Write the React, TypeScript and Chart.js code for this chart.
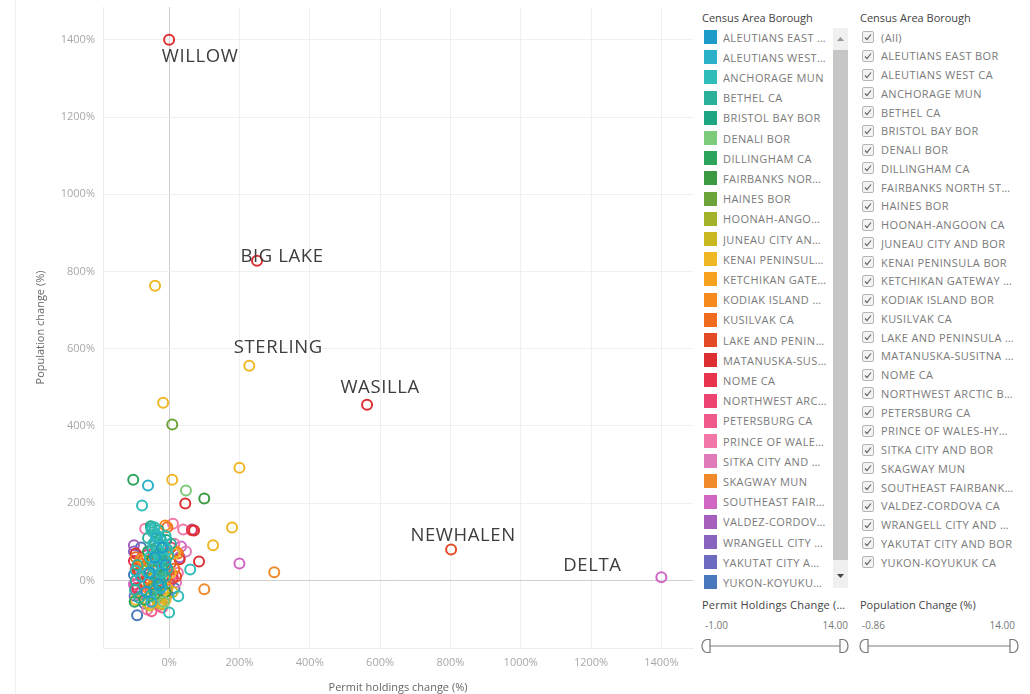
import React, { useEffect, useRef } from "react";
import { Chart, registerables } from "chart.js";
Chart.register(...registerables);

// ---------- DATA ----------
const BOROUGHS = [
  "ALEUTIANS EAST BOR", "ALEUTIANS WEST CA", "ANCHORAGE MUN", "BETHEL CA", "BRISTOL BAY BOR",
  "DENALI BOR", "DILLINGHAM CA", "FAIRBANKS NORTH STAR BOR", "HAINES BOR", "HOONAH-ANGOON CA",
  "JUNEAU CITY AND BOR", "KENAI PENINSULA BOR", "KETCHIKAN GATEWAY BOR", "KODIAK ISLAND BOR",
  "KUSILVAK CA", "LAKE AND PENINSULA BOR", "MATANUSKA-SUSITNA BOR", "NOME CA", "NORTHWEST ARCTIC BOR",
  "PETERSBURG CA", "PRINCE OF WALES-HYDER CA", "SITKA CITY AND BOR", "SKAGWAY MUN",
  "SOUTHEAST FAIRBANKS CA", "VALDEZ-CORDOVA CA", "WRANGELL CITY AND BOR", "YAKUTAT CITY AND BOR",
  "YUKON-KOYUKUK CA",
];

const COLORS = [
  "#1f9bc9", "#2ab0c8", "#2fbdb9", "#2bb09c", "#1ea582",
  "#7ccb7a", "#2da45c", "#3b9a3f", "#6da43a", "#a3b12b",
  "#c9b820", "#efb724", "#f6a21f", "#f68a1c", "#ef6c1e",
  "#e54a26", "#dd2f32", "#e9344d", "#ed4370", "#f05a8b",
  "#f277a8", "#e07ab9", "#f08a2a", "#d165c4", "#a75fbe",
  "#8a63c0", "#6c6bbf", "#4a78bd",
];

// [permit holdings change %, population change %]
const ALEUTIANS_EAST: number[][] = [[-55, 20], [-40, 60], [-30, -10], [-20, 85], [-65, -30], [-10, 40]];
const ALEUTIANS_WEST: number[][] = [[-60, 246], [-45, 35], [-25, -20], [-80, 10], [-35, 110], [-50, -55]];
const ANCHORAGE: number[][] = [[-77, 194], [-50, 130], [-40, 120], [-30, 75], [-20, 100], [-15, 60], [-5, 80], [-35, 40], [-25, 20], [0, -83], [26, -41], [60, 28], [-45, 95], [-10, 115], [-55, 60], [-42, 138], [-60, 20], [-95, 25]];
const BETHEL: number[][] = [[-50, 135], [-45, 125], [-40, 100], [-35, 85], [-30, 130], [-25, 110], [-20, 70], [-15, 90], [-10, 50], [-5, 30], [-38, 55], [-28, 45], [-18, 20], [-48, 15], [-58, -5], [-42, -25], [-32, 5], [-22, -15], [-12, 10], [-2, 65], [5, 95], [-60, 110], [-95, 0], [-90, 40], [-85, -45], [-33, 115], [-27, 95], [-37, 70], [-23, 55], [-47, 80], [-53, -40], [-97, -25]];
const BRISTOL_BAY: number[][] = [[-52, 140], [-33, 65], [-23, -5], [-8, 105]];
const DENALI: number[][] = [[48, 233], [-50, -40], [-15, -55]];
const DILLINGHAM: number[][] = [[-102, 261], [-98, -55], [-70, -50], [-40, -35], [-20, 35], [-60, 75]];
const FAIRBANKS: number[][] = [[100, 212], [-30, 15], [-10, -30], [-50, 50]];
const HAINES: number[][] = [[9, 404], [-45, -20]];
const HOONAH: number[][] = [[-35, -45], [-65, 25]];
const JUNEAU: number[][] = [[-55, -65], [-25, -60], [10, -30]];
const KENAI: number[][] = [[228, 556], [-40, 763], [-17, 460], [9, 261], [200, 292], [179, 137], [125, 91], [-30, -55], [-10, -50], [-95, -50], [5, 20], [-60, -60], [-20, -40], [15, 70]];
const KETCHIKAN: number[][] = [[-18, -62], [-5, -20], [-45, 5], [-70, 50]];
const KODIAK: number[][] = [[-11, 142], [-30, 30], [-60, -20], [20, 75], [-80, 55]];
const KUSILVAK: number[][] = [[-5, 138], [-85, 45], [-65, 40], [-40, 25], [-10, 0], [15, 30], [-50, -15], [-95, 60], [25, 70]];
const LAKE_PENINSULA: number[][] = [[802, 80], [-90, 30], [-70, -5], [-35, -25], [5, 45], [-55, 45], [20, 10], [-20, 55]];
const MATANUSKA: number[][] = [[0, 1400], [250, 828], [563, 455], [46, 199], [85, 49], [71, 129], [-60, 5], [-25, -10], [-85, 20], [30, 55], [-95, 70]];
const NOME: number[][] = [[-100, 50], [-75, 10], [-45, 70], [-15, 40], [10, 5], [-90, -20], [65, 130]];
const NORTHWEST_ARCTIC: number[][] = [[-95, 30], [-65, 65], [-35, -5], [5, 85], [-80, -30]];
const PETERSBURG: number[][] = [[-95, -10], [-50, -80], [-20, -70], [10, 15]];
const PRINCE_OF_WALES: number[][] = [[-68, 134], [11, 147], [40, 132], [-90, 5], [-62, -75], [-30, -65], [15, 95], [25, 20]];
const SITKA: number[][] = [[48, 75], [-90, -35], [20, -5]];
const SKAGWAY: number[][] = [[299, 21], [100, -23]];
const SOUTHEAST_FAIRBANKS: number[][] = [[1400, 8], [200, 44], [-100, -10], [34, 88]];
const VALDEZ: number[][] = [[-100, 91], [-96, -20], [65, 132], [30, 60]];
const WRANGELL: number[][] = [[-100, 75], [-10, -45]];
const YAKUTAT: number[][] = [[-98, -40], [0, -10]];
const YUKON: number[][] = [[-91, -90], [-100, 15], [-70, -60], [-40, -45], [-5, -35], [15, -20], [-55, -5], [-80, 85]];

const SERIES = [
  ALEUTIANS_EAST, ALEUTIANS_WEST, ANCHORAGE, BETHEL, BRISTOL_BAY, DENALI, DILLINGHAM, FAIRBANKS,
  HAINES, HOONAH, JUNEAU, KENAI, KETCHIKAN, KODIAK, KUSILVAK, LAKE_PENINSULA, MATANUSKA, NOME,
  NORTHWEST_ARCTIC, PETERSBURG, PRINCE_OF_WALES, SITKA, SKAGWAY, SOUTHEAST_FAIRBANKS, VALDEZ,
  WRANGELL, YAKUTAT, YUKON,
];

const LABEL_NAMES = ["WILLOW", "BIG LAKE", "STERLING", "WASILLA", "NEWHALEN", "DELTA"];
const LABEL_X = [0, 250, 228, 563, 802, 1400];
const LABEL_Y = [1400, 828, 556, 455, 80, 8];

const X_TICKS = [0, 200, 400, 600, 800, 1000, 1200, 1400];
const Y_TICKS = [0, 200, 400, 600, 800, 1000, 1200, 1400];

const PERMIT_RANGE = ["-1.00", "14.00"];
const POP_RANGE = ["-0.86", "14.00"];

// label pixel offsets (style)
const LABEL_DX = [31, 25, 29, 13, 12, -69];
const LABEL_DY = [17, -4, -18, -17, -14, -12];

const FONT = '"Open Sans", "DejaVu Sans", sans-serif';

const labelPlugin = {
  id: "townLabels",
  afterDatasetsDraw(chart: any) {
    const { ctx, scales } = chart;
    ctx.save();
    ctx.font = `18.5px ${FONT}`;
    ctx.fillStyle = "#3d3d3d";
    ctx.textAlign = "center";
    ctx.textBaseline = "middle";
    try { (ctx as any).letterSpacing = "0.6px"; } catch (e) {}
    LABEL_NAMES.forEach((name, i) => {
      const px = scales.x.getPixelForValue(LABEL_X[i]) + LABEL_DX[i];
      const py = scales.y.getPixelForValue(LABEL_Y[i]) + LABEL_DY[i];
      ctx.fillText(name, px, py);
    });
    ctx.restore();
  },
};

function ScatterChart() {
  const ref = useRef<HTMLCanvasElement>(null);
  useEffect(() => {
    if (!ref.current) return;
    const datasets = SERIES.map((pts, i) => ({
      label: BOROUGHS[i],
      data: pts.map((p) => ({ x: p[0], y: p[1] })),
      borderColor: COLORS[i],
      backgroundColor: "rgba(255,255,255,0)",
      pointRadius: 5,
      pointBorderWidth: 2,
      pointHoverRadius: 5,
    }));
    const gridColor = (c: any) => (c.tick && c.tick.value === 0 ? "#cfcfcf" : "#efefef");
    const chart = new Chart(ref.current, {
      type: "scatter",
      data: { datasets },
      plugins: [labelPlugin],
      options: {
        animation: false,
        responsive: false,
        maintainAspectRatio: false,
        layout: { padding: { left: 30, top: 5, right: 7, bottom: 0 } },
        plugins: { legend: { display: false }, tooltip: { enabled: false } },
        scales: {
          x: {
            type: "linear",
            min: -188,
            max: 1490,
            afterBuildTicks: (s: any) => { s.ticks = X_TICKS.map((v) => ({ value: v })); },
            afterFit: (s: any) => { s.height = 46; },
            ticks: {
              includeBounds: false,
              callback: (v: any) => `${v}%`,
              color: "#a8a8a8",
              font: { family: FONT, size: 11 },
              padding: 8,
              maxRotation: 0,
            },
            grid: { color: gridColor, drawTicks: false, lineWidth: 1 },
            border: { display: true, color: "#ececec" },
            title: {
              display: true,
              text: "Permit holdings change (%)",
              color: "#666",
              font: { family: FONT, size: 11 },
              padding: { top: 0, bottom: 0 },
            },
          },
          y: {
            type: "linear",
            min: -175,
            max: 1485,
            afterBuildTicks: (s: any) => { s.ticks = Y_TICKS.map((v) => ({ value: v })); },
            afterFit: (s: any) => { s.width = 73; s.paddingTop = 0; s.paddingBottom = 0; },
            ticks: {
              includeBounds: false,
              callback: (v: any) => `${v}%`,
              color: "#a8a8a8",
              font: { family: FONT, size: 11 },
              padding: 8,
            },
            grid: { color: gridColor, drawTicks: false, lineWidth: 1 },
            border: { display: true, color: "#ececec" },
            title: {
              display: true,
              text: "Population change (%)",
              color: "#666",
              font: { family: FONT, size: 11 },
              padding: { top: 4, bottom: 0 },
            },
          },
        },
      },
    } as any);
    return () => chart.destroy();
  }, []);
  return <canvas ref={ref} width={700} height={694} style={{ position: "absolute", left: 0, top: 0 }} />;
}

const textBase: React.CSSProperties = {
  fontFamily: FONT,
  fontSize: 11,
  color: "#7a7a7a",
  letterSpacing: 0.4,
  whiteSpace: "nowrap",
  overflow: "hidden",
  textOverflow: "ellipsis",
};

function Checkbox() {
  return (
    <svg width={12} height={12} style={{ display: "block" }}>
      <rect x={0.5} y={0.5} width={11} height={11} rx={1.5} fill="#f3f3f3" stroke="#b5b5b5" />
      <path d="M3 6.5 L5 8.5 L9 3.5" fill="none" stroke="#666" strokeWidth={1.2} />
    </svg>
  );
}

function Slider({ left, width }: { left: number; width: number }) {
  return (
    <svg width={width} height={16} style={{ position: "absolute", left, top: 638 }}>
      <line x1={8} y1={8} x2={width - 8} y2={8} stroke="#bdbdbd" strokeWidth={2} />
      <path d="M8 1.5 L8 14.5 L5 14.5 A5 6.5 0 0 1 5 1.5 Z" fill="#fff" stroke="#777" strokeWidth={1.2} transform="translate(1,0)" />
      <path d={`M${width - 9} 1.5 L${width - 9} 14.5 L${width - 6} 14.5 A5 6.5 0 0 0 ${width - 6} 1.5 Z`} fill="#fff" stroke="#777" strokeWidth={1.2} />
    </svg>
  );
}

export default function App() {
  useEffect(() => {
    document.body.style.margin = "0";
  }, []);
  return (
    <div style={{ position: "fixed", left: 0, top: 0, width: 1030, height: 694, background: "#fff", overflow: "hidden" }}>
      <div style={{ position: "absolute", left: 15, top: 0, width: 1, height: 694, background: "#f0f0f0" }} />
      <ScatterChart />

      {/* colour legend */}
      <div style={{ ...textBase, position: "absolute", left: 702, top: 10, color: "#444", letterSpacing: 0 }}>Census Area Borough</div>
      {BOROUGHS.map((b, i) => (
        <div key={b} style={{ position: "absolute", left: 704, top: 30 + i * 20.2, height: 14, display: "flex", alignItems: "center" }}>
          <div style={{ width: 13, height: 14, background: COLORS[i] }} />
          <div style={{ ...textBase, marginLeft: 6, width: 104 }}>{b}</div>
        </div>
      ))}
      <div style={{ position: "absolute", left: 833, top: 28, width: 15, height: 560, background: "#f0f0f0" }} />
      <div style={{ position: "absolute", left: 833, top: 50, width: 15, height: 510, background: "#c6c6c6" }} />
      <svg width={15} height={10} style={{ position: "absolute", left: 833, top: 34 }}>
        <path d="M4 7 L7.5 3 L11 7 Z" fill="#999" />
      </svg>
      <svg width={15} height={10} style={{ position: "absolute", left: 833, top: 571 }}>
        <path d="M4 3 L7.5 7 L11 3 Z" fill="#444" />
      </svg>

      {/* filter list */}
      <div style={{ ...textBase, position: "absolute", left: 860, top: 10, color: "#444", letterSpacing: 0 }}>Census Area Borough</div>
      {["(All)", ...BOROUGHS].map((b, i) => (
        <div key={b} style={{ position: "absolute", left: 862, top: 30 + i * 18.75, height: 14, display: "flex", alignItems: "center" }}>
          <Checkbox />
          <div style={{ ...textBase, marginLeft: 7, width: 134 }}>{b}</div>
        </div>
      ))}

      {/* range filters */}
      <div style={{ ...textBase, position: "absolute", left: 702, top: 597, width: 146, color: "#444", letterSpacing: 0.2 }}>Permit Holdings Change (%)</div>
      <div style={{ ...textBase, position: "absolute", left: 705, top: 618, color: "#777", letterSpacing: 0, fontSize: 10 }}>{PERMIT_RANGE[0]}</div>
      <div style={{ ...textBase, position: "absolute", left: 800, width: 48, textAlign: "right", top: 618, color: "#777", letterSpacing: 0, fontSize: 10 }}>{PERMIT_RANGE[1]}</div>
      <Slider left={701} width={148} />

      <div style={{ ...textBase, position: "absolute", left: 860, top: 597, color: "#444", letterSpacing: 0 }}>Population Change (%)</div>
      <div style={{ ...textBase, position: "absolute", left: 862, top: 618, color: "#777", letterSpacing: 0, fontSize: 10 }}>{POP_RANGE[0]}</div>
      <div style={{ ...textBase, position: "absolute", left: 965, width: 50, textAlign: "right", top: 618, color: "#777", letterSpacing: 0, fontSize: 10 }}>{POP_RANGE[1]}</div>
      <Slider left={859} width={160} />
    </div>
  );
}
